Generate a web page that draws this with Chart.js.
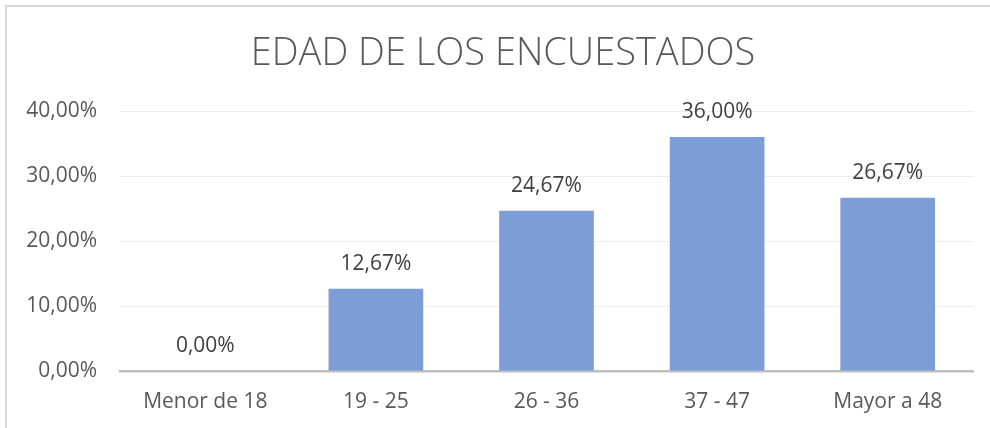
<!DOCTYPE html>
<html>
<head>
<meta charset="utf-8">
<script src="https://cdn.jsdelivr.net/npm/chart.js@4/dist/chart.umd.min.js"></script>
<style>
  html, body { margin: 0; padding: 0; background: #ffffff; }
  #wrap { position: relative; width: 990px; height: 428px; overflow: hidden; }
  #frame { position: absolute; left: 5px; top: 5px; width: 990px; height: 430px;
           border-left: 2px solid #D9D9D9; border-top: 2px solid #D9D9D9; box-sizing: border-box; }
  canvas { position: absolute; left: 0; top: 0; }
</style>
</head>
<body>
<div id="wrap">
  <div id="frame"></div>
  <canvas id="c" width="990" height="428"></canvas>
</div>
<script>
const chartTitle = 'EDAD DE LOS ENCUESTADOS';
const categories = ['Menor de 18', '19 - 25', '26 - 36', '37 - 47', 'Mayor a 48'];
const percentages = [0, 12.67, 24.67, 36.00, 26.67];
const yTicks = [0, 10, 20, 30, 40];

const fmt = v => v.toFixed(2).replace('.', ',') + '%';
const FONT = "'Open Sans', 'Liberation Sans', sans-serif";

const dataLabels = {
  id: 'dataLabels',
  afterDatasetsDraw(chart) {
    const ctx = chart.ctx;
    const meta = chart.getDatasetMeta(0);
    ctx.save();
    ctx.font = '21px ' + FONT;
    ctx.fillStyle = '#404040';
    ctx.textAlign = 'center';
    ctx.textBaseline = 'middle';
    meta.data.forEach((el, i) => {
      ctx.fillText(fmt(chart.data.datasets[0].data[i]), el.x, el.y - 25);
    });
    ctx.restore();
  }
};

new Chart(document.getElementById('c'), {
  type: 'bar',
  data: {
    labels: categories,
    datasets: [{
      data: percentages,
      backgroundColor: 'rgb(124,157,214)',
      borderWidth: 0,
      categoryPercentage: 1,
      barPercentage: 0.555
    }]
  },
  options: {
    responsive: false,
    animation: false,
    layout: { padding: { left: 0, right: -16, top: 0, bottom: 0 } },
    plugins: {
      legend: { display: false },
      tooltip: { enabled: false },
      title: {
        display: true,
        text: chartTitle,
        color: '#595959',
        font: { family: FONT, size: 38, weight: '300', lineHeight: 1.2 },
        padding: { top: 31, bottom: 34.4 }
      }
    },
    scales: {
      x: {
        grid: { display: false, drawTicks: false },
        border: { display: true, color: '#BFBFBF', width: 2.5 },
        ticks: { color: '#595959', font: { family: FONT, size: 21 }, padding: 18, maxRotation: 0 },
        afterFit(scale) { scale.height = 57; }
      },
      y: {
        min: yTicks[0],
        max: yTicks[yTicks.length - 1],
        afterBuildTicks(scale) { scale.ticks = yTicks.map(v => ({ value: v })); },
        grid: { color: '#EDEDED', lineWidth: 1, drawTicks: false },
        border: { display: false },
        ticks: { color: '#595959', font: { family: FONT, size: 21 }, padding: 23, callback: v => fmt(v) },
        afterFit(scale) { scale.width = 120; }
      },
      yRight: {
        position: 'right',
        display: true,
        min: yTicks[0],
        max: yTicks[yTicks.length - 1],
        grid: { display: false, drawTicks: false },
        border: { display: false },
        ticks: { display: false },
        afterFit(scale) { scale.width = 33; }
      }
    }
  },
  plugins: [dataLabels]
});
</script>
</body>
</html>
